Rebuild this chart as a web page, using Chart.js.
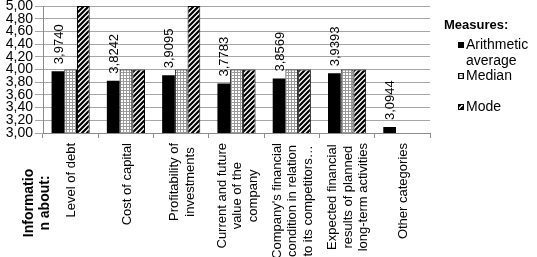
<!DOCTYPE html>
<html>
<head>
<meta charset="utf-8">
<script src="https://cdn.jsdelivr.net/npm/chart.js@4/dist/chart.umd.min.js"></script>
<style>
  html, body { margin: 0; padding: 0; background: #fff; }
  #wrap { position: relative; width: 537px; height: 257px; }
</style>
</head>
<body>
<div id="wrap"><canvas id="c" width="537" height="257"></canvas></div>
<script>
// ---- data ----
const categories = [
  ["Level of debt"],
  ["Cost of capital"],
  ["Profitability of", "investments"],
  ["Current and future", "value of the", "company"],
  ["Company's financial", "condition in relation", "to its competitors…"],
  ["Expected financial", "results of planned", "long-term activities"],
  ["Other categories"]
];
const seriesNames = ["Arithmetic average", "Median", "Mode"];
const arithmeticAverage = [3.9740, 3.8242, 3.9095, 3.7783, 3.8569, 3.9393, 3.0944];
const median = [4, 4, 4, 4, 4, 4, null];
const mode = [5, 4, 5, 4, 4, 4, null];
const yMin = 3, yMax = 5, yStep = 0.2;
const axisTitle = ["Informatio", "n about:"];
const legendTitle = "Measures:";

// ---- patterns ----
function makePattern(kind) {
  const t = document.createElement('canvas');
  const g = t.getContext('2d');
  if (kind === 'dots') {
    t.width = 3; t.height = 3;
    g.fillStyle = '#fff'; g.fillRect(0, 0, 3, 3);
    g.fillStyle = '#9a9a9a';
    g.fillRect(0, 0, 1, 3);
    g.fillRect(0, 0, 3, 1);
  } else {
    t.width = 5; t.height = 5;
    g.fillStyle = '#fff'; g.fillRect(0, 0, 5, 5);
    g.strokeStyle = '#000'; g.lineWidth = 2.2;
    g.beginPath();
    for (let k = -2; k <= 2; k++) {
      g.moveTo(k * 5 - 1, 6); g.lineTo(k * 5 + 6, -1);
    }
    g.stroke();
  }
  return document.createElement('canvas').getContext('2d').createPattern(t, 'repeat');
}
const dotPattern = makePattern('dots');
const stripePattern = makePattern('stripes');
const fills = ['#000', dotPattern, stripePattern];

const FONT = "'Liberation Sans', Arial, Helvetica, sans-serif";

const labelPlugin = {
  id: 'valueLabels',
  afterDatasetsDraw(chart) {
    const ctx = chart.ctx;
    const meta = chart.getDatasetMeta(0);
    ctx.save();
    ctx.fillStyle = '#000';
    ctx.font = "13px " + FONT;
    ctx.textAlign = 'left';
    ctx.textBaseline = 'middle';
    meta.data.forEach((el, i) => {
      const v = arithmeticAverage[i];
      if (v == null) return;
      ctx.save();
      ctx.translate(el.x + 1, el.y - 7);
      ctx.rotate(-Math.PI / 2);
      ctx.fillText(v.toFixed(4).replace('.', ','), 0, 0);
      ctx.restore();
    });
    ctx.restore();
  }
};

const decorPlugin = {
  id: 'decor',
  afterDraw(chart) {
    const ctx = chart.ctx;
    const xs = chart.scales.x;
    ctx.save();
    // category labels, rotated, lines centred on each other, block top-aligned
    ctx.fillStyle = '#000';
    ctx.font = "13px " + FONT;
    ctx.textAlign = 'center';
    ctx.textBaseline = 'middle';
    const lh = 15.5;
    const top = chart.chartArea.bottom + 10;
    categories.forEach((lines, i) => {
      const cx = xs.getPixelForValue(i) + 1;
      const w = Math.max(...lines.map(l => ctx.measureText(l).width));
      const cy = top + w / 2;
      lines.forEach((ln, j) => {
        ctx.save();
        ctx.translate(cx + (j - (lines.length - 1) / 2) * lh, cy);
        ctx.rotate(-Math.PI / 2);
        ctx.fillText(ln, 0, 0);
        ctx.restore();
      });
    });
    // rotated axis title
    ctx.font = "bold 14px " + FONT;
    axisTitle.forEach((line, i) => {
      ctx.save();
      ctx.translate(29 + i * 16, 203);
      ctx.rotate(-Math.PI / 2);
      ctx.fillText(line, 0, 0);
      ctx.restore();
    });
    // legend
    const lx = chart.chartArea.right;
    ctx.textAlign = 'left';
    ctx.font = "bold 13px " + FONT;
    ctx.fillText(legendTitle, lx + 14, 25);
    ctx.font = "14px " + FONT;
    const items = [
      { lines: ["Arithmetic", "average"], y: 45 },
      { lines: ["Median"], y: 76 },
      { lines: ["Mode"], y: 107 }
    ];
    items.forEach((it, i) => {
      const mx = lx + 28, my = it.y - 3;
      ctx.fillStyle = fills[i];
      ctx.fillRect(mx, my, 6, 6);
      ctx.strokeStyle = '#000';
      ctx.lineWidth = 1;
      ctx.strokeRect(mx + 0.5, my + 0.5, 5, 5);
      ctx.fillStyle = '#000';
      it.lines.forEach((ln, j) => ctx.fillText(ln, lx + 36, it.y + j * 16));
    });
    ctx.restore();
  }
};

function build() {
  const data = {
    labels: categories,
    datasets: [arithmeticAverage, median, mode].map((vals, i) => ({
      label: seriesNames[i],
      data: vals,
      backgroundColor: fills[i],
      borderColor: '#000',
      borderWidth: i === 0 ? 0 : 1,
      categoryPercentage: 0.69,
      barPercentage: 1.0
    }))
  };

  new Chart(document.getElementById('c'), {
    type: 'bar',
    data,
    options: {
      responsive: false,
      animation: false,
      devicePixelRatio: 1,
      layout: { padding: { top: 6, right: 107, left: 0, bottom: 0 } },
      plugins: { legend: { display: false }, tooltip: { enabled: false } },
      scales: {
        x: {
          afterFit(s) { s.height = 124; },
          grid: { offset: true, drawOnChartArea: false, tickLength: 5, color: '#8c8c8c' },
          border: { color: '#8c8c8c' },
          ticks: { display: false }
        },
        y: {
          min: yMin, max: yMax,
          afterFit(s) { s.width = 43; s.paddingTop = 0; s.paddingBottom = 0; },
          grid: { color: '#a6a6a6', tickLength: 8 },
          border: { color: '#8c8c8c' },
          ticks: {
            stepSize: yStep, autoSkip: false, padding: 2, color: '#000',
            font: { family: FONT, size: 14 },
            callback: v => v.toFixed(2).replace('.', ',')
          }
        }
      }
    },
    plugins: [labelPlugin, decorPlugin]
  });
}

Promise.all([
  document.fonts.load("13px 'Liberation Sans'"),
  document.fonts.load("bold 13px 'Liberation Sans'")
]).then(build, build);
</script>
</body>
</html>
